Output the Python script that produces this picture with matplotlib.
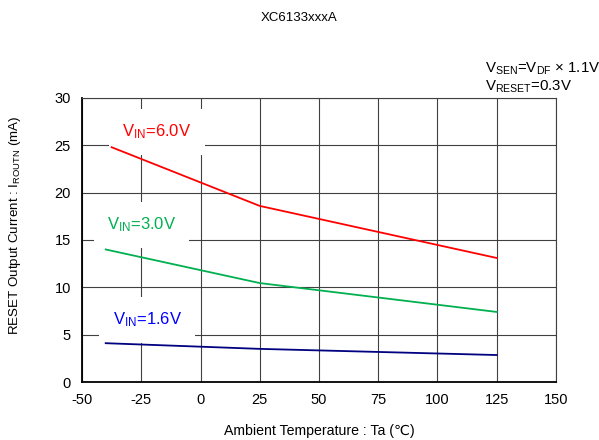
import matplotlib
matplotlib.use("Agg")
import matplotlib.pyplot as plt

plt.rcParams['font.family'] = ['Liberation Sans', 'DejaVu Sans']
plt.rcParams['mathtext.fontset'] = 'custom'
plt.rcParams['mathtext.rm'] = 'Liberation Sans'
plt.rcParams['mathtext.it'] = 'Liberation Sans'
plt.rcParams['axes.unicode_minus'] = False

temp_6v0 = [-37.5, 25, 125]
i_6v0 = [24.8, 18.6, 13.1]
temp = [-40, 25, 125]
i_3v0 = [14.0, 10.45, 7.4]
i_1v6 = [4.1, 3.5, 2.85]

xticks = [-50, -25, 0, 25, 50, 75, 100, 125, 150]
yticks = [0, 5, 10, 15, 20, 25, 30]

fig = plt.figure(figsize=(5.99, 4.40), dpi=100)
ax = fig.add_axes([0.1369, 0.1318, 0.7913, 0.6455])

ax.plot(temp_6v0, i_6v0, color='#ff0000', lw=1.3, zorder=3)
ax.plot(temp, i_3v0, color='#00b050', lw=1.3, zorder=3)
ax.plot(temp, i_1v6, color='#000080', lw=1.3, zorder=3)

ax.set_xlim(-50, 150)
ax.set_ylim(0, 30)
ax.set_xticks(xticks)
ax.set_yticks(yticks)
ax.tick_params(length=0, labelsize=10.5, pad=8)
ax.grid(True, color='#404040', lw=0.8)
ax.set_axisbelow(True)
for s in ['top', 'right']:
    ax.spines[s].set_color('#404040')
    ax.spines[s].set_linewidth(0.8)
for s in ['left', 'bottom']:
    ax.spines[s].set_linewidth(1.3)

box = dict(facecolor='white', edgecolor='none', boxstyle='square,pad=0.8')
ax.text(-33.1, 26.4, r'V$_{\mathregular{IN}}$=6.0V', color='#ff0000', fontsize=12,
        va='center', bbox=box, zorder=2.5)
ax.text(-39.5, 16.6, r'V$_{\mathregular{IN}}$=3.0V', color='#00b050', fontsize=12,
        va='center', bbox=box, zorder=2.5)
ax.text(-37, 6.55, r'V$_{\mathregular{IN}}$=1.6V', color='#0000ff', fontsize=12,
        va='center', bbox=box, zorder=2.5)

ax.set_xlabel('Ambient Temperature : Ta (\u2103)', fontsize=10.2, labelpad=12)
ax.set_ylabel(r'RESET Output Current : I$_{\mathregular{ROUTN}}$ (mA)', fontsize=9.6)
ax.yaxis.set_label_coords(-0.124, 0.553)

fig.text(0.5, 0.952, 'XC6133xxxA', ha='center', fontsize=9.5)
fig.text(0.81, 0.835, r'V$_{\mathregular{SEN}}$=V$_{\mathregular{DF}}$ $\times$ 1.1V', fontsize=10.8)
fig.text(0.81, 0.793, r'V$_{\mathregular{RESET}}$=0.3V', fontsize=10.8)

fig.savefig('out.png', dpi=100)
